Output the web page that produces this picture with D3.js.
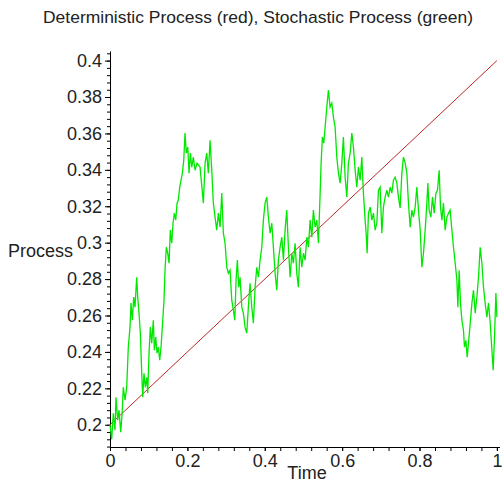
<!DOCTYPE html>
<html>
<head>
<meta charset="utf-8">
<script src="https://cdn.jsdelivr.net/npm/d3@7/dist/d3.min.js"></script>
<style>
  html, body { margin: 0; padding: 0; background: #fff; }
  svg { display: block; }
  text { font-family: "Liberation Sans", Arial, sans-serif; fill: #222; }
</style>
</head>
<body>
<svg id="chart" width="503" height="483"></svg>
<script>
// ---- data ----
const title = "Deterministic Process (red), Stochastic Process (green)";
const xLabel = "Time";
const yLabel = "Process";

const detTime = [0, 1];
const detValue = [0.2, 0.4];

const stochTime = [
  0, 0.0044, 0.0085, 0.0129, 0.0155, 0.0199, 0.0233, 0.0277, 0.0318, 0.0344,
  0.0388, 0.0432, 0.0473, 0.0517, 0.0543, 0.0577, 0.0613, 0.0646, 0.0690, 0.0716,
  0.0750, 0.0784, 0.0820, 0.0846, 0.0879, 0.0913, 0.0949, 0.0975, 0.1009, 0.1042,
  0.1078, 0.1120, 0.1146, 0.1182, 0.1215, 0.1249, 0.1285, 0.1319, 0.1352, 0.1396,
  0.1422, 0.1456, 0.1492, 0.1526, 0.1559, 0.1596, 0.1629, 0.1663, 0.1699, 0.1733,
  0.1766, 0.1802, 0.1836, 0.1870, 0.1906, 0.1939, 0.1973, 0.2009, 0.2043, 0.2077,
  0.2113, 0.2154, 0.2198, 0.2250,
  0.2327, 0.2413, 0.2457, 0.2501, 0.2542, 0.2586, 0.2630, 0.2671, 0.2715, 0.2759,
  0.2801, 0.2845, 0.2889, 0.2930, 0.2974, 0.3018, 0.3059, 0.3103, 0.3147, 0.3189,
  0.3225, 0.3258, 0.3292, 0.3328, 0.3362, 0.3406, 0.3447, 0.3491, 0.3535, 0.3576,
  0.3620, 0.3664, 0.3706, 0.3750, 0.3794, 0.3835, 0.3879, 0.3923, 0.3964, 0.4008,
  0.4052, 0.4094, 0.4138, 0.4182, 0.4223, 0.4267, 0.4311, 0.4352, 0.4396, 0.4440,
  0.4482, 0.4525, 0.4569, 0.4611, 0.4655, 0.4699, 0.4740,
  0.4784, 0.4828, 0.4869, 0.4913, 0.4957, 0.4999, 0.5043, 0.5087, 0.5128, 0.5172,
  0.5216, 0.5257, 0.5301, 0.5345, 0.5387, 0.5431, 0.5456, 0.5490, 0.5526, 0.5560,
  0.5604, 0.5645, 0.5689, 0.5733, 0.5774, 0.5818, 0.5862, 0.5904, 0.5948, 0.5992,
  0.6033, 0.6077, 0.6121, 0.6162, 0.6206, 0.6250, 0.6292, 0.6336, 0.6380, 0.6421,
  0.6465, 0.6509, 0.6550, 0.6594, 0.6620, 0.6646, 0.6680, 0.6724, 0.6768, 0.6809,
  0.6853, 0.6897, 0.6938, 0.6982, 0.7026, 0.7067, 0.7111, 0.7155, 0.7197, 0.7241,
  0.7285, 0.7326,
  0.7370, 0.7414, 0.7455, 0.7499, 0.7543, 0.7585, 0.7629, 0.7673, 0.7714, 0.7758,
  0.7802, 0.7843, 0.7887, 0.7931, 0.7973, 0.8017, 0.8061, 0.8102, 0.8146, 0.8190,
  0.8216, 0.8249, 0.8293, 0.8335, 0.8379, 0.8423, 0.8464, 0.8508, 0.8542, 0.8578,
  0.8619, 0.8663, 0.8707, 0.8748, 0.8792, 0.8836, 0.8878, 0.8922, 0.8966, 0.8991,
  0.9025, 0.9059, 0.9095, 0.9136, 0.9162, 0.9198, 0.9232, 0.9266, 0.9310, 0.9354,
  0.9395, 0.9439, 0.9483, 0.9524, 0.9568, 0.9612, 0.9653, 0.9697, 0.9741, 0.9783,
  0.9827, 0.9871, 0.9904, 0.9938, 0.9974, 1.0
];
const stochValue = [
  0.2000, 0.1920, 0.2063, 0.1970, 0.2151, 0.2025, 0.2080, 0.1959, 0.2080, 0.2206,
  0.2135, 0.2206, 0.2426, 0.2536, 0.2668, 0.2574, 0.2701, 0.2646, 0.2810, 0.2701,
  0.2613, 0.2503, 0.2283, 0.2151, 0.2283, 0.2206, 0.2261, 0.2173, 0.2393, 0.2536,
  0.2448, 0.2574, 0.2409, 0.2481, 0.2393, 0.2426, 0.2354, 0.2426, 0.2536, 0.2684,
  0.2849, 0.2975, 0.2942, 0.2887, 0.3069, 0.2997, 0.3107, 0.3162, 0.3124, 0.3217,
  0.3234, 0.3305, 0.3343, 0.3382, 0.3453, 0.3602, 0.3492, 0.3525, 0.3382, 0.3492,
  0.3415, 0.3470, 0.3398, 0.3437,
  0.3415, 0.3217, 0.3437, 0.3492, 0.3382, 0.3563, 0.3398, 0.3217, 0.3140, 0.3069,
  0.3162, 0.3085, 0.3272, 0.3052, 0.2997, 0.2865, 0.2832, 0.2849, 0.2684, 0.2629,
  0.2574, 0.2794, 0.2904, 0.2755, 0.2810, 0.2646, 0.2613, 0.2536, 0.2503, 0.2646,
  0.2777, 0.2646, 0.2558, 0.2755, 0.2865, 0.2810, 0.2904, 0.2975, 0.3124, 0.3217,
  0.3250, 0.3140, 0.3052, 0.3107, 0.2975, 0.2832, 0.2739, 0.2904, 0.2975, 0.3030,
  0.2904, 0.3069, 0.3179, 0.2975, 0.2810, 0.2942, 0.2887,
  0.2997, 0.2832, 0.2755, 0.2975, 0.2865, 0.2942, 0.2904, 0.3030, 0.2975, 0.3124,
  0.3030, 0.3179, 0.3085, 0.3124, 0.2997, 0.3272, 0.3437, 0.3580, 0.3547, 0.3635,
  0.3745, 0.3838, 0.3745, 0.3766, 0.3690, 0.3635, 0.3470, 0.3382, 0.3327, 0.3437,
  0.3580, 0.3360, 0.3250, 0.3437, 0.3492, 0.3602, 0.3525, 0.3398, 0.3305, 0.3415,
  0.3343, 0.3470, 0.3272, 0.3124, 0.3052, 0.2942, 0.3162, 0.3195, 0.3124, 0.3162,
  0.3069, 0.3107, 0.3288, 0.3305, 0.3052, 0.3195, 0.3250, 0.3288, 0.3250, 0.3305,
  0.3272, 0.3343,
  0.3360, 0.3327, 0.3250, 0.3190, 0.3382, 0.3470, 0.3437, 0.3382, 0.3217, 0.3085,
  0.3179, 0.3140, 0.3195, 0.3305, 0.3179, 0.3069, 0.2865, 0.2942, 0.3069, 0.3217,
  0.3327, 0.3179, 0.3140, 0.3250, 0.3162, 0.3272, 0.3288, 0.3398, 0.3195, 0.3124,
  0.3217, 0.3069, 0.3140, 0.3162, 0.3179, 0.3069, 0.2975, 0.2887, 0.2794, 0.2646,
  0.2849, 0.2668, 0.2574, 0.2519, 0.2426, 0.2464, 0.2371, 0.2448, 0.2558, 0.2668,
  0.2739, 0.2613, 0.2701, 0.2810, 0.2975, 0.2887, 0.2755, 0.2668, 0.2591, 0.2668,
  0.2558, 0.2409, 0.2299, 0.2481, 0.2723, 0.2591
];

const yMajorTicks = [0.2, 0.22, 0.24, 0.26, 0.28, 0.3, 0.32, 0.34, 0.36, 0.38, 0.4];
const yTickLabels = ["0.2", "0.22", "0.24", "0.26", "0.28", "0.3", "0.32", "0.34", "0.36", "0.38", "0.4"];
const xMajorTicks = [0, 0.2, 0.4, 0.6, 0.8, 1];
const xTickLabels = ["0", "0.2", "0.4", "0.6", "0.8", "1"];
const xMinorStep = 0.04;
const yMinorStep = 0.004;
const xView = [0, 1.008];
const yView = [0.1875, 0.405];

// ---- drawing ----
const svg = d3.select("#chart");
const x = d3.scaleLinear().domain(xView).range([110, 500]);
const y = d3.scaleLinear().domain(yView).range([447.5, 51.5]);

const xMinor = d3.range(0, xView[1] + 1e-9, xMinorStep);
const yMinor = d3.range(0.188, yView[1] + 1e-9, yMinorStep);

// y axis
const yAxisMinor = d3.axisLeft(y).tickValues(yMinor).tickSize(3).tickFormat("");
const gyMin = svg.append("g").attr("transform", "translate(110,0)").call(yAxisMinor);
gyMin.select(".domain").attr("d", `M0.5,${y(yView[0])}V${y(yView[1])}`);

const yAxisMajor = d3.axisLeft(y).tickValues(yMajorTicks).tickSize(5).tickPadding(3)
  .tickFormat((d, i) => yTickLabels[i]);
const gy = svg.append("g").attr("transform", "translate(110,0)").call(yAxisMajor);
gy.select(".domain").remove();

// x axis
const xAxisMinor = d3.axisBottom(x).tickValues(xMinor).tickSize(4).tickFormat("");
const gxMin = svg.append("g").attr("transform", "translate(0,447)").call(xAxisMinor);
gxMin.select(".domain").attr("d", `M${x(xView[0])},0.5H${x(xView[1])}`);

const xAxisMajor = d3.axisBottom(x).tickValues(xMajorTicks).tickSize(4).tickPadding(3)
  .tickFormat((d, i) => xTickLabels[i]);
const gx = svg.append("g").attr("transform", "translate(0,447)").call(xAxisMajor);
gx.select(".domain").remove();

svg.selectAll(".tick line").attr("stroke", "#000");
svg.selectAll(".domain").attr("stroke", "#000");
svg.selectAll(".tick text")
  .attr("font-family", '"Liberation Sans", Arial, sans-serif')
  .attr("font-size", 18)
  .attr("fill", "#222");

// lines
const line = d3.line().x(d => x(d[0])).y(d => y(d[1]));

svg.append("path")
  .datum(detTime.map((t, i) => [t, detValue[i]]))
  .attr("d", line)
  .attr("fill", "none")
  .attr("stroke", "#c02828")
  .attr("stroke-width", 1);

svg.append("path")
  .datum(stochTime.map((t, i) => [t, stochValue[i]]))
  .attr("d", line)
  .attr("fill", "none")
  .attr("stroke", "#00e800")
  .attr("stroke-width", 1.3)
  .attr("stroke-linejoin", "miter");

// texts
svg.append("text")
  .attr("x", 258).attr("y", 23)
  .attr("text-anchor", "middle")
  .attr("font-size", 17)
  .attr("textLength", 430)
  .attr("lengthAdjust", "spacingAndGlyphs")
  .text(title);

svg.append("text")
  .attr("x", 73).attr("y", 257)
  .attr("text-anchor", "end")
  .attr("font-size", 18)
  .text(yLabel);

svg.append("text")
  .attr("x", 307).attr("y", 479)
  .attr("text-anchor", "middle")
  .attr("font-size", 18)
  .text(xLabel);
</script>
</body>
</html>
